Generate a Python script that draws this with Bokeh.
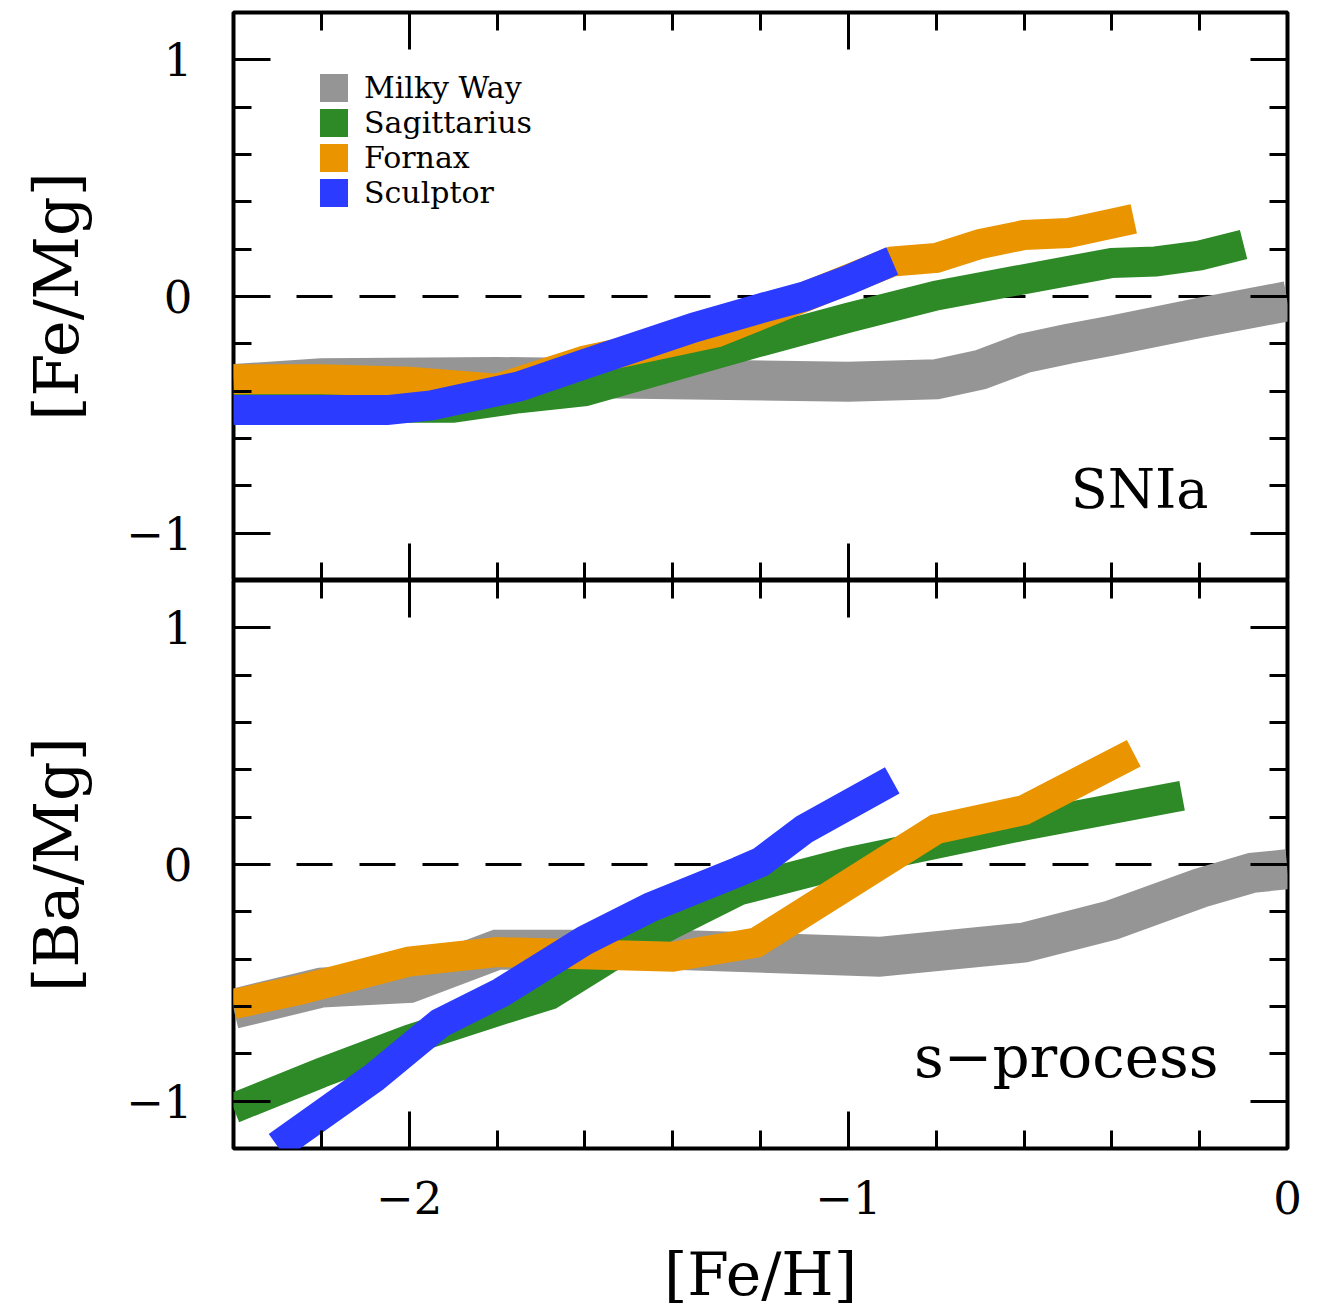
from bokeh.plotting import figure
from bokeh.layouts import column
from bokeh.models import (Span, Legend, LegendItem, FixedTicker, Range1d,
                          LinearAxis, CustomJSTickFormatter)
from bokeh.embed import file_html
from bokeh.resources import INLINE
from bokeh.core.properties import value

FONT = "DejaVu Serif"

# ---------------- data ----------------
series = ["Milky Way", "Sagittarius", "Fornax", "Sculptor"]
colors = ["#959595", "#2d8a27", "#ea9500", "#2b3bff"]

# top panel: [Fe/Mg] vs [Fe/H]
mw_fe_x = [-2.4, -2.2, -1.8, -1.4, -1.0, -0.8, -0.7, -0.6, -0.5, -0.4, -0.2, 0.0]
mw_fe_y = [-0.37, -0.345, -0.34, -0.35, -0.36, -0.35, -0.31, -0.24, -0.20, -0.165, -0.09, -0.02]
sgr_fe_x = [-2.4, -2.0, -1.9, -1.75, -1.6, -1.2, -1.0, -0.8, -0.4, -0.3, -0.2, -0.1]
sgr_fe_y = [-0.47, -0.47, -0.47, -0.43, -0.40, -0.19, -0.09, 0.004, 0.142, 0.148, 0.173, 0.22]
fnx_fe_x = [-2.4, -2.2, -2.0, -1.8, -1.6, -1.3, -0.9, -0.8, -0.7, -0.6, -0.5, -0.35]
fnx_fe_y = [-0.35, -0.35, -0.36, -0.39, -0.27, -0.152, 0.148, 0.163, 0.222, 0.26, 0.268, 0.328]
scl_fe_x = [-2.4, -2.05, -1.95, -1.75, -1.6, -1.35, -1.2, -1.1, -1.0, -0.9]
scl_fe_y = [-0.48, -0.48, -0.46, -0.38, -0.285, -0.13, -0.05, 0.0, 0.07, 0.15]

# bottom panel: [Ba/Mg] vs [Fe/H]
mw_ba_x = [-2.4, -2.2, -2.0, -1.8, -1.4, -0.93, -0.6, -0.4, -0.2, -0.08, 0.0]
mw_ba_y = [-0.61, -0.52, -0.50, -0.36, -0.36, -0.39, -0.33, -0.235, -0.10, -0.035, -0.02]
sgr_ba_x = [-2.4, -2.2, -2.0, -1.8, -1.68, -1.55, -1.4, -1.25, -1.0, -0.6, -0.24]
sgr_ba_y = [-1.03, -0.88, -0.74, -0.62, -0.55, -0.40, -0.25, -0.11, 0.01, 0.165, 0.29]
fnx_ba_x = [-2.4, -2.25, -2.0, -1.8, -1.4, -1.21, -0.8, -0.6, -0.35]
fnx_ba_y = [-0.59, -0.53, -0.41, -0.37, -0.39, -0.33, 0.15, 0.23, 0.47]
scl_ba_x = [-2.3, -2.08, -1.93, -1.79, -1.6, -1.45, -1.25, -1.2, -1.1, -0.9]
scl_ba_y = [-1.19, -0.90, -0.67, -0.54, -0.32, -0.18, -0.03, 0.01, 0.15, 0.355]

x_major = [-2, -1, 0]
x_minor = [-2.4, -2.2, -2.0, -1.8, -1.6, -1.4, -1.2, -1.0, -0.8, -0.6, -0.4, -0.2, 0.0]
y_major = [-1, 0, 1]
y_minor = [-1.2, -1.0, -0.8, -0.6, -0.4, -0.2, 0.0, 0.2, 0.4, 0.6, 0.8, 1.0, 1.2]

panel_labels = ["SNIa", "s\u2212process"]
y_titles = ["[Fe/Mg]", "[Ba/Mg]"]
x_title = "[Fe/H]"

top_data = [(mw_fe_x, mw_fe_y), (sgr_fe_x, sgr_fe_y), (fnx_fe_x, fnx_fe_y), (scl_fe_x, scl_fe_y)]
bot_data = [(mw_ba_x, mw_ba_y), (sgr_ba_x, sgr_ba_y), (fnx_ba_x, fnx_ba_y), (scl_ba_x, scl_ba_y)]
widths = [40, 30, 30, 30]

MINUS_FMT = "return tick < 0 ? '\\u2212' + Math.abs(tick) : '' + tick;"


def style_axis(ax, ticks, minor, show_labels):
    ax.ticker = FixedTicker(ticks=ticks, minor_ticks=minor)
    ax.axis_line_color = None
    ax.major_tick_in = 37
    ax.major_tick_out = 0
    ax.minor_tick_in = 18
    ax.minor_tick_out = 0
    ax.major_tick_line_width = 3
    ax.minor_tick_line_width = 3
    ax.major_tick_line_color = "black"
    ax.minor_tick_line_color = "black"
    if show_labels:
        ax.major_label_text_font = FONT
        ax.major_label_text_font_size = "45px"
        ax.major_label_text_color = "black"
        ax.formatter = CustomJSTickFormatter(code=MINUS_FMT)
    else:
        ax.major_label_text_font_size = "0px"
        ax.major_label_text_color = None
        ax.major_label_standoff = 0


def make_panel(data, ytitle, label, lx, lsize, show_x, top_border):
    p = figure(frame_width=1054, frame_height=568,
               x_range=Range1d(-2.4, 0), y_range=Range1d(-1.2, 1.2),
               output_backend="svg", toolbar_location=None,
               min_border_left=233, min_border_right=22,
               min_border_top=top_border, min_border_bottom=0,
               background_fill_color="white", border_fill_color="white")
    p.xgrid.visible = False
    p.ygrid.visible = False
    p.outline_line_color = "black"
    p.outline_line_width = 4

    style_axis(p.xaxis[0], x_major, x_minor, show_x)
    style_axis(p.yaxis[0], y_major, y_minor, True)
    p.yaxis[0].major_label_standoff = 41
    p.yaxis[0].axis_label = ytitle
    p.yaxis[0].axis_label_text_font = FONT
    p.yaxis[0].axis_label_text_font_size = "62px"
    p.yaxis[0].axis_label_text_font_style = "normal"
    p.yaxis[0].axis_label_text_color = "black"
    p.yaxis[0].axis_label_standoff = 30
    if show_x:
        p.xaxis[0].major_label_standoff = 32
        p.xaxis[0].axis_label = x_title
        p.xaxis[0].axis_label_text_font = FONT
        p.xaxis[0].axis_label_text_font_size = "60px"
        p.xaxis[0].axis_label_text_font_style = "normal"
        p.xaxis[0].axis_label_text_color = "black"
        p.xaxis[0].axis_label_standoff = 22

    ax_top = LinearAxis()
    style_axis(ax_top, x_major, x_minor, False)
    p.add_layout(ax_top, "above")
    ax_right = LinearAxis()
    style_axis(ax_right, y_major, y_minor, False)
    p.add_layout(ax_right, "right")

    p.add_layout(Span(location=0, dimension="width", line_color="black",
                      line_width=3, line_dash="36 27", level="underlay"))

    for (xs, ys), c, w in zip(data, colors, widths):
        p.line(xs, ys, line_color=c, line_width=w, line_cap="butt", line_join="miter")

    p.text(x=[lx], y=[-0.815], text=[label], text_font=value(FONT),
           text_font_size=lsize, text_align="right", text_baseline="alphabetic",
           text_color="black")
    return p


p_top = make_panel(top_data, y_titles[0], panel_labels[0], -0.18, "54px", False, 12)
p_bot = make_panel(bot_data, y_titles[1], panel_labels[1], -0.157, "58px", True, 0)

# legend: one single-entry legend per row so the row pitch matches the original
nan = float("nan")
for i, (s, c) in enumerate(zip(series, colors)):
    r = p_top.quad(left=[nan], right=[nan], top=[nan], bottom=[nan],
                   fill_color=c, line_color=None)
    leg = Legend(items=[LegendItem(label=s, renderers=[r])],
                 location=(83, 475 - 35 * i), glyph_width=35, glyph_height=35,
                 label_standoff=13, padding=0, margin=0, spacing=0,
                 border_line_color=None, background_fill_alpha=0,
                 label_text_font=FONT, label_text_color="black",
                 label_text_font_size="30px", label_height=35)
    p_top.add_layout(leg)

layout = column(p_top, p_bot)
open("out.html", "w").write(file_html(layout, INLINE))
